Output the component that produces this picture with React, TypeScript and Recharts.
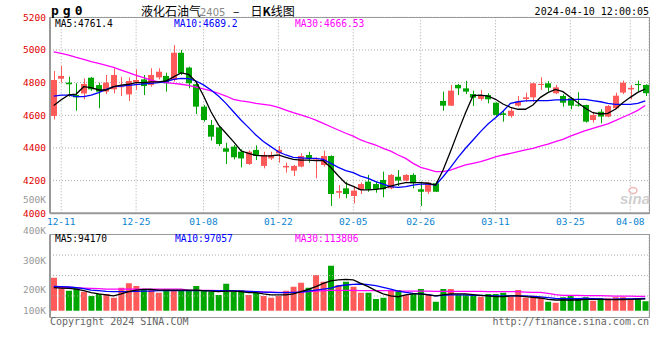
import React from 'react';
import { ComposedChart, Bar, Line, XAxis, YAxis, CartesianGrid, Cell, ReferenceLine } from 'recharts';

// trading days (Spring Festival / holidays are skipped)
const dates = [
  '12-08', '12-11', '12-12', '12-13', '12-14', '12-15', '12-18', '12-19', '12-20', '12-21',
  '12-22', '12-25', '12-26', '12-27', '12-28', '12-29', '01-02', '01-03', '01-04', '01-05',
  '01-08', '01-09', '01-10', '01-11', '01-12', '01-15', '01-16', '01-17', '01-18', '01-19',
  '01-22', '01-23', '01-24', '01-25', '01-26', '01-29', '01-30', '01-31', '02-01', '02-02',
  '02-05', '02-06', '02-07', '02-08', '02-19', '02-20', '02-21', '02-22', '02-23', '02-26',
  '02-27', '02-28', '02-29', '03-01', '03-04', '03-05', '03-06', '03-07', '03-08', '03-11',
  '03-12', '03-13', '03-14', '03-15', '03-18', '03-19', '03-20', '03-21', '03-22', '03-25',
  '03-26', '03-27', '03-28', '03-29', '04-01', '04-02', '04-03', '04-08', '04-09', '04-10',
];

const opens = [
  4596, 4824, 4800, 4724, 4734, 4830, 4785, 4745, 4759, 4772,
  4728, 4802, 4820, 4785, 4832, 4841, 4816, 4983, 4892, 4790,
  4653, 4541, 4526, 4398, 4408, 4377, 4302, 4388, 4290, 4336,
  4367, 4281, 4261, 4286, 4357, 4322, 4296, 4351, 4126, 4153,
  4106, 4143, 4194, 4179, 4204, 4153, 4224, 4200, 4235, 4147,
  4132, 4184, 4688, 4659, 4786, 4765, 4730, 4700, 4724, 4677,
  4612, 4596, 4659, 4700, 4710, 4786, 4796, 4735, 4718, 4704,
  4665, 4663, 4571, 4622, 4592, 4643, 4739, 4759, 4792, 4786,
];
const highs = [
  4871, 4902, 4836, 4796, 4826, 4835, 4800, 4847, 4888, 4836,
  4832, 4881, 4847, 4888, 4888, 4861, 5030, 5000, 4898, 4800,
  4663, 4571, 4534, 4432, 4418, 4392, 4385, 4416, 4377, 4377,
  4412, 4310, 4296, 4367, 4377, 4343, 4383, 4355, 4173, 4194,
  4163, 4188, 4235, 4194, 4255, 4241, 4265, 4240, 4245, 4194,
  4190, 4194, 4745, 4786, 4792, 4810, 4751, 4755, 4735, 4680,
  4632, 4643, 4718, 4739, 4800, 4833, 4810, 4786, 4728, 4710,
  4741, 4665, 4622, 4637, 4663, 4739, 4812, 4786, 4812, 4790,
];
const lows = [
  4575, 4800, 4714, 4628, 4698, 4750, 4643, 4730, 4734, 4718,
  4688, 4755, 4724, 4775, 4820, 4745, 4806, 4847, 4765, 4608,
  4561, 4445, 4412, 4302, 4330, 4281, 4296, 4326, 4275, 4326,
  4310, 4249, 4228, 4281, 4310, 4214, 4286, 4045, 4092, 4092,
  4061, 4118, 4132, 4126, 4098, 4147, 4167, 4194, 4153, 4045,
  4118, 4130, 4628, 4657, 4724, 4730, 4657, 4690, 4673, 4592,
  4561, 4586, 4653, 4683, 4683, 4755, 4745, 4730, 4653, 4637,
  4653, 4555, 4555, 4551, 4588, 4637, 4730, 4698, 4745, 4718,
];
const closes = [
  4816, 4841, 4790, 4710, 4792, 4759, 4745, 4800, 4847, 4778,
  4810, 4816, 4779, 4847, 4867, 4796, 4983, 4857, 4796, 4653,
  4571, 4469, 4424, 4377, 4343, 4336, 4377, 4351, 4357, 4357,
  4388, 4290, 4290, 4351, 4336, 4330, 4351, 4118, 4136, 4118,
  4139, 4179, 4147, 4147, 4147, 4235, 4200, 4235, 4184, 4132,
  4188, 4132, 4659, 4751, 4765, 4745, 4708, 4724, 4698, 4602,
  4602, 4628, 4683, 4710, 4796, 4792, 4769, 4771, 4677, 4659,
  4661, 4561, 4602, 4592, 4657, 4720, 4800, 4768, 4785, 4735,
];

const ma5 = [
  4660, 4695, 4725, 4730, 4775, 4770, 4755, 4755, 4775, 4785,
  4790, 4800, 4800, 4805, 4805, 4810, 4835, 4860, 4850, 4806,
  4720, 4622, 4541, 4490, 4439, 4383, 4367, 4355, 4351, 4351,
  4357, 4343, 4330, 4326, 4326, 4322, 4322, 4280, 4230, 4183,
  4165, 4143, 4143, 4147, 4153, 4167, 4179, 4188, 4188, 4188,
  4184, 4173, 4265, 4380, 4500, 4615, 4720, 4724, 4718, 4698,
  4669, 4649, 4637, 4637, 4663, 4710, 4739, 4759, 4745, 4710,
  4677, 4643, 4616, 4608, 4612, 4637, 4677, 4710, 4740, 4761,
];
const ma10 = [
  4718, 4724, 4724, 4714, 4714, 4724, 4739, 4759, 4775, 4779,
  4783, 4788, 4792, 4796, 4800, 4806, 4820, 4826, 4824, 4810,
  4786, 4755, 4718, 4673, 4622, 4571, 4526, 4479, 4439, 4408,
  4377, 4357, 4343, 4339, 4336, 4336, 4330, 4306, 4281, 4261,
  4249, 4228, 4214, 4194, 4179, 4163, 4159, 4163, 4173, 4179,
  4179, 4173, 4224, 4281, 4343, 4398, 4449, 4500, 4547, 4585,
  4625, 4673, 4683, 4688, 4690, 4690, 4690, 4694, 4694, 4696,
  4698, 4698, 4690, 4683, 4673, 4667, 4667, 4667, 4673, 4689,
];
const ma30 = [
  4988, 4979, 4969, 4955, 4943, 4928, 4918, 4906, 4894, 4877,
  4861, 4845, 4830, 4816, 4804, 4800, 4796, 4790, 4783, 4772,
  4762, 4749, 4735, 4718, 4698, 4688, 4682, 4673, 4667, 4661,
  4649, 4632, 4616, 4602, 4588, 4571, 4551, 4530, 4510, 4490,
  4472, 4449, 4432, 4418, 4398, 4381, 4357, 4336, 4306, 4281,
  4269, 4255, 4255, 4265, 4281, 4296, 4306, 4316, 4330, 4345,
  4357, 4367, 4377, 4388, 4398, 4412, 4424, 4439, 4453, 4473,
  4490, 4506, 4520, 4534, 4547, 4567, 4588, 4608, 4630, 4660,
];

// volume, thousands of lots
const volK = [
  262, 178, 159, 178, 151, 117, 133, 133, 103, 183,
  218, 196, 164, 170, 143, 170, 156, 159, 156, 196,
  156, 151, 125, 214, 151, 164, 125, 143, 117, 103,
  117, 159, 191, 222, 183, 283, 230, 357, 204, 230,
  191, 143, 143, 93, 103, 164, 164, 125, 138, 172,
  125, 71, 172, 172, 125, 125, 125, 111, 133, 133,
  143, 111, 164, 103, 119, 103, 71, 64, 106, 119,
  98, 106, 79, 98, 98, 106, 106, 85, 98, 76,
];
const volMa5 = [
  183, 180, 178, 172, 159, 143, 133, 125, 117, 133,
  151, 164, 170, 170, 164, 164, 164, 164, 164, 164,
  159, 156, 151, 156, 156, 151, 143, 143, 133, 125,
  125, 125, 133, 151, 170, 191, 217, 236, 244, 249,
  244, 217, 191, 159, 133, 117, 111, 125, 133, 133,
  125, 117, 125, 133, 133, 133, 127, 122, 117, 111,
  111, 117, 117, 111, 106, 101, 90, 85, 85, 85,
  85, 90, 90, 90, 88, 88, 89, 90, 92, 94,
];
const volMa10 = [
  193, 191, 188, 183, 175, 164, 159, 154, 151, 151,
  151, 154, 156, 156, 159, 159, 159, 159, 159, 159,
  159, 159, 159, 159, 159, 156, 154, 151, 148, 146,
  143, 143, 146, 148, 156, 164, 172, 180, 196, 204,
  209, 212, 207, 199, 186, 172, 156, 146, 138, 133,
  127, 117, 122, 125, 125, 125, 122, 122, 119, 117,
  117, 117, 117, 117, 114, 109, 103, 98, 95, 95,
  95, 98, 95, 93, 90, 92, 93, 94, 95, 97,
];
const volMa30 = [
  186, 186, 186, 183, 180, 178, 175, 172, 172, 172,
  172, 172, 172, 172, 172, 172, 172, 172, 164, 162,
  162, 162, 159, 159, 156, 156, 154, 151, 148, 148,
  146, 146, 146, 148, 151, 156, 159, 162, 162, 162,
  162, 159, 159, 159, 159, 159, 156, 156, 156, 156,
  156, 154, 154, 154, 154, 154, 154, 154, 151, 151,
  151, 151, 151, 148, 146, 146, 138, 127, 122, 122,
  122, 119, 119, 119, 117, 116, 115, 115, 114, 114,
];

const dateTicks = ['12-11', '12-25', '01-08', '01-22', '02-05', '02-26', '03-11', '03-25', '04-08'];
const priceTicks = [4000, 4200, 4400, 4600, 4800, 5000, 5200];
// sina's volume labels do not sit on the grid, they are kept where the picture has them
const volTickVals = [0, 164, 397, 633, 879];
const volTickLabels = ['100K', '200K', '300K', '400K', '500K'];
const volGridVals = [117, 279, 442];

const priceMaLabels = ['MA5:4761.4', 'MA10:4689.2', 'MA30:4666.53'];
const volMaLabels = ['MA5:94170', 'MA10:97057', 'MA30:113806'];

const UP = '#ff5a5a';
const DOWN = '#00a600';
const MONO = 'DejaVu Sans Mono';
const GRID = '#aaa';
const AXIS = '#999';

const rows = dates.map((date, i) => ({
  date,
  open: opens[i],
  high: highs[i],
  low: lows[i],
  close: closes[i],
  ma5: ma5[i],
  ma10: ma10[i],
  ma30: ma30[i],
  vol: volK[i],
  vma5: volMa5[i],
  vma10: volMa10[i],
  vma30: volMa30[i],
}));

const Candle = (props: any) => {
  const { x, y, width, height, payload } = props;
  if (!payload || x == null || y == null) return null;
  const top = Math.min(y, y + height);
  const bot = Math.max(y, y + height);
  const span = payload.high - payload.low || 1;
  const toY = (p: number) => top + ((payload.high - p) / span) * (bot - top);
  const color = payload.close >= payload.open ? UP : DOWN;
  const bTop = toY(Math.max(payload.open, payload.close));
  const bBot = toY(Math.min(payload.open, payload.close));
  const left = Math.round(x);
  const cx = left + Math.floor(width / 2) + 0.5;
  return (
    <g>
      <line x1={cx} x2={cx} y1={top} y2={bot} stroke={color} strokeWidth={1} />
      <rect x={left} y={bTop} width={width} height={Math.max(1, bBot - bTop)} fill={color} />
    </g>
  );
};

const maLine = (key: string, color: string) => (
  <Line
    key={key}
    type="linear"
    dataKey={key}
    stroke={color}
    strokeWidth={1.3}
    dot={false}
    activeDot={false}
    isAnimationActive={false}
  />
);

export default function App() {
  return (
    <div style={{ position: 'absolute', left: 0, top: 0, width: 660, height: 360, background: '#fff', overflow: 'hidden' }}>
      <div style={{ position: 'absolute', left: 0, top: 0 }}>
        <ComposedChart width={660} height={232} data={rows} margin={{ top: 17.3, right: 11, bottom: 0, left: 0 }}>
          <CartesianGrid stroke={GRID} strokeDasharray="1 2" />
          <XAxis
            dataKey="date"
            ticks={dateTicks}
            interval={0}
            height={18.7}
            tickLine={false}
            tickSize={2}
            tickMargin={3}
            axisLine={{ stroke: AXIS, strokeWidth: 2 }}
            tick={{ fill: '#0a84d0', fontSize: 9.5, fontFamily: MONO }}
          />
          <YAxis
            type="number"
            domain={[4000, 5200]}
            ticks={priceTicks}
            interval={0}
            width={50}
            allowDataOverflow
            tickLine={false}
            tickSize={2}
            tickMargin={2}
            axisLine={{ stroke: AXIS, strokeWidth: 2 }}
            tick={{ fill: '#e00000', fontSize: 9.5, fontFamily: MONO }}
          />
          <Bar dataKey={(d: any) => [d.low, d.high]} barSize={6} shape={Candle} isAnimationActive={false} />
          {maLine('ma30', '#ff00ff')}
          {maLine('ma10', '#0000ff')}
          {maLine('ma5', '#000000')}
        </ComposedChart>
      </div>

      <div style={{ position: 'absolute', left: 0, top: 190 }}>
        <ComposedChart width={660} height={150} data={rows} margin={{ top: 44.5, right: 11, bottom: 22.5, left: 0 }}>
          <CartesianGrid stroke={GRID} strokeDasharray="1 2" horizontal={false} />
          <XAxis
            dataKey="date"
            ticks={dateTicks}
            interval={0}
            height={0}
            tick={false}
            tickLine={false}
            axisLine={{ stroke: AXIS, strokeWidth: 2 }}
          />
          <YAxis
            type="number"
            domain={[-54, 605]}
            ticks={volTickVals}
            interval={0}
            width={50}
            allowDataOverflow
            tickLine={false}
            tickSize={2}
            tickMargin={2}
            axisLine={{ stroke: AXIS, strokeWidth: 2 }}
            tick={{ fill: '#999', fontSize: 9.5, fontFamily: MONO }}
            tickFormatter={(v: number) => volTickLabels[volTickVals.indexOf(v)] ?? ''}
          />
          {volGridVals.map((v) => (
            <ReferenceLine key={v} y={v} stroke={GRID} strokeDasharray="1 2" />
          ))}
          <Bar dataKey="vol" barSize={6} isAnimationActive={false}>
            {rows.map((r, i) => (
              <Cell key={i} fill={r.close >= r.open ? UP : DOWN} />
            ))}
          </Bar>
          {maLine('vma30', '#ff00ff')}
          {maLine('vma10', '#0000ff')}
          {maLine('vma5', '#000000')}
        </ComposedChart>
      </div>

      {/* panel frames */}
      <div style={{ position: 'absolute', left: 50, top: 17, width: 600, height: 197, border: '1px solid #999', boxSizing: 'border-box' }} />
      <div style={{ position: 'absolute', left: 50, top: 234, width: 600, height: 84, border: '1px solid #999', boxSizing: 'border-box' }} />

      <svg width={660} height={360} style={{ position: 'absolute', left: 0, top: 0 }}>
        <text x={51} y={15} fontFamily={MONO} fontWeight="bold" fontSize={13} style={{ letterSpacing: 4 }}>pg0</text>
        <text x={141} y={15.5} fontFamily="Noto Sans CJK SC" fontSize={12}>液化石油气</text>
        <text x={200} y={15.5} fontFamily="DejaVu Sans" fontSize={10} fill="#888">2405</text>
        <text x={233} y={15.5} fontFamily="Noto Sans CJK SC" fontSize={12}>–</text>
        <text x={250.5} y={15.5} fontFamily="Noto Sans CJK SC" fontSize={12}>
          日<tspan fontWeight="bold">K</tspan>线图
        </text>
        <text x={649} y={15} textAnchor="end" fontFamily={MONO} fontSize={10}>2024-04-10 12:00:05</text>

        <text x={55} y={27} fontFamily={MONO} fontSize={9.6} fill="#000">{priceMaLabels[0]}</text>
        <text x={174} y={27} fontFamily={MONO} fontSize={9.6} fill="#0000ff">{priceMaLabels[1]}</text>
        <text x={295} y={27} fontFamily={MONO} fontSize={9.6} fill="#ff00ff">{priceMaLabels[2]}</text>

        <text x={55} y={242} fontFamily={MONO} fontSize={9.6} fill="#000">{volMaLabels[0]}</text>
        <text x={175} y={242} fontFamily={MONO} fontSize={9.6} fill="#0000ff">{volMaLabels[1]}</text>
        <text x={295} y={242} fontFamily={MONO} fontSize={9.6} fill="#ff00ff">{volMaLabels[2]}</text>

        <ellipse cx={633} cy={190.5} rx={4} ry={3} fill="none" stroke="#f2b8b8" strokeWidth={1.5} />
        <text x={620} y={204} fontFamily="Liberation Sans" fontStyle="italic" fontWeight="bold" fontSize={15} fill="#cfcfcf">sina</text>

        <text x={50} y={325} fontFamily={MONO} fontSize={10} fill="#666">Copyright 2024 SINA.COM</text>
        <text x={649} y={325} textAnchor="end" fontFamily={MONO} fontSize={10} fill="#666">http://finance.sina.com.cn</text>
      </svg>
    </div>
  );
}
